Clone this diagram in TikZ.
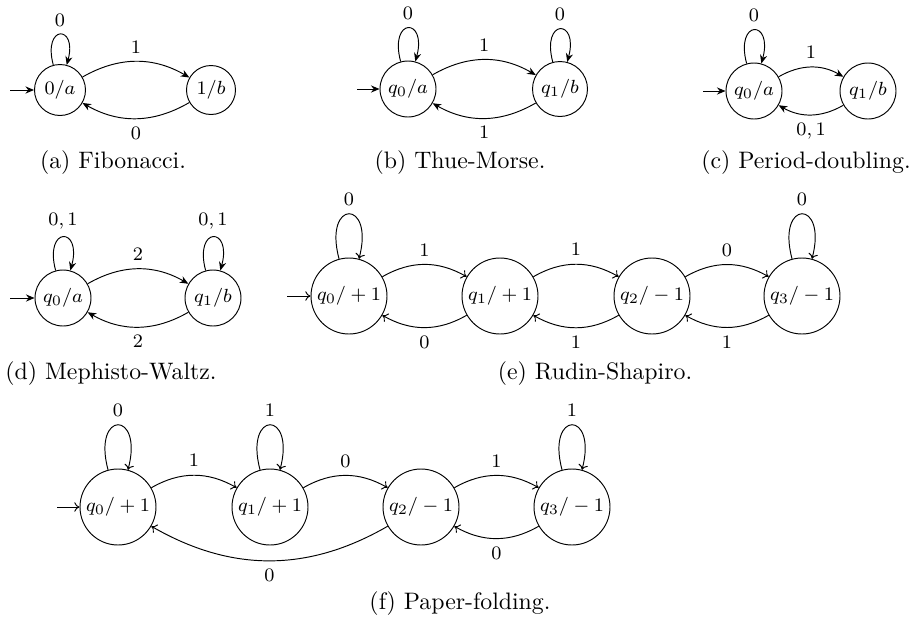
\documentclass[tikz,border=0pt]{standalone}
\usetikzlibrary{arrows.meta}
\begin{document}
\begin{tikzpicture}[x=0.42pt,y=0.42pt,
  st/.style={circle,draw,inner sep=0pt,font=\footnotesize,minimum size=#1*0.42pt},
  lbl/.style={font=\footnotesize},
  capt/.style={font=\normalsize},
  ea/.style={-{Stealth[length=3.6pt,width=3pt]}},
  ee/.style={-{To[length=2.2pt,width=4pt]}}]
\useasboundingbox (0,0) rectangle (912,-625);
% (a)
\node[st=51] (A0) at (60,-90) {$0/a$};
\node[st=49] (A1) at (211,-90) {$1/b$};
\coordinate (ia) at (10,-90);
\draw[ea] (ia) -- (A0);
\draw[ea] (A0) to[loop above] node[lbl,above] {$0$} (A0);
\draw[ea] (A0) to[bend left=30] node[lbl,above] {$1$} (A1);
\draw[ea] (A1) to[bend left=30] node[lbl,below] {$0$} (A0);
\node[capt] (capa) at (113,-163) {(a) Fibonacci.};
% (b)
\node[st=56] (B0) at (408,-89) {$q_0/a$};
\node[st=55] (B1) at (560,-89) {$q_1/b$};
\coordinate (ib) at (357,-89);
\draw[ea] (ib) -- (B0);
\draw[ea] (B0) to[loop above] node[lbl,above] {$0$} (B0);
\draw[ea] (B1) to[loop above] node[lbl,above] {$0$} (B1);
\draw[ea] (B0) to[bend left=30] node[lbl,above] {$1$} (B1);
\draw[ea] (B1) to[bend left=30] node[lbl,below] {$1$} (B0);
\node[capt] (capb) at (460,-163) {(b) Thue-Morse.};
% (c)
\node[st=56] (C0) at (754,-91) {$q_0/a$};
\node[st=56] (C1) at (868,-91) {$q_1/b$};
\coordinate (ic) at (703,-91);
\draw[ea] (ic) -- (C0);
\draw[ea] (C0) to[loop above] node[lbl,above] {$0$} (C0);
\draw[ea] (C0) to[bend left=30] node[lbl,above] {$1$} (C1);
\draw[ea] (C1) to[bend left=30] node[lbl,below] {$0,1$} (C0);
\node[capt] (capc) at (806,-163) {(c) Period-doubling.};
% (d)
\node[st=56] (D0) at (63,-298) {$q_0/a$};
\node[st=56] (D1) at (213,-298) {$q_1/b$};
\coordinate (id) at (10,-298);
\draw[ea] (id) -- (D0);
\draw[ea] (D0) to[loop above] node[lbl,above] {$0,1$} (D0);
\draw[ea] (D1) to[loop above] node[lbl,above] {$0,1$} (D1);
\draw[ea] (D0) to[bend left=30] node[lbl,above] {$2$} (D1);
\draw[ea] (D1) to[bend left=30] node[lbl,below] {$2$} (D0);
\node[capt] (capd) at (111,-374) {(d) Mephisto-Waltz.};
% (e)
\node[st=76] (E0) at (349,-296) {$q_0/+1$};
\node[st=76] (E1) at (500,-296) {$q_1/+1$};
\node[st=76] (E2) at (652,-296) {$q_2/-1$};
\node[st=76] (E3) at (802,-296) {$q_3/-1$};
\coordinate (ie) at (287,-296);
\draw[ee] (ie) -- (E0);
\draw[ee] (E0) to[loop above] node[lbl,above] {$0$} (E0);
\draw[ee] (E3) to[loop above] node[lbl,above] {$0$} (E3);
\draw[ee] (E0) to[bend left=30] node[lbl,above] {$1$} (E1);
\draw[ee] (E1) to[bend left=30] node[lbl,below] {$0$} (E0);
\draw[ee] (E1) to[bend left=30] node[lbl,above] {$1$} (E2);
\draw[ee] (E2) to[bend left=30] node[lbl,below] {$1$} (E1);
\draw[ee] (E2) to[bend left=30] node[lbl,above] {$0$} (E3);
\draw[ee] (E3) to[bend left=30] node[lbl,below] {$1$} (E2);
\node[capt] (cape) at (595,-374) {(e) Rudin-Shapiro.};
% (f)
\node[st=76] (F0) at (118,-507) {$q_0/+1$};
\node[st=76] (F1) at (270,-507) {$q_1/+1$};
\node[st=76] (F2) at (421,-507) {$q_2/-1$};
\node[st=76] (F3) at (572,-507) {$q_3/-1$};
\coordinate (if) at (57,-507);
\draw[ee] (if) -- (F0);
\draw[ee] (F0) to[loop above] node[lbl,above] {$0$} (F0);
\draw[ee] (F1) to[loop above] node[lbl,above] {$1$} (F1);
\draw[ee] (F3) to[loop above] node[lbl,above] {$1$} (F3);
\draw[ee] (F0) to[bend left=30] node[lbl,above] {$1$} (F1);
\draw[ee] (F1) to[bend left=30] node[lbl,above] {$0$} (F2);
\draw[ee] (F2) to[bend left=30] node[lbl,above] {$1$} (F3);
\draw[ee] (F3) to[bend left=30] node[lbl,below] {$0$} (F2);
\draw[ee] (F2) to[bend left=30] node[lbl,below] {$0$} (F0);
\node[capt] (capf) at (460,-604) {(f) Paper-folding.};
\end{tikzpicture}
\end{document}
